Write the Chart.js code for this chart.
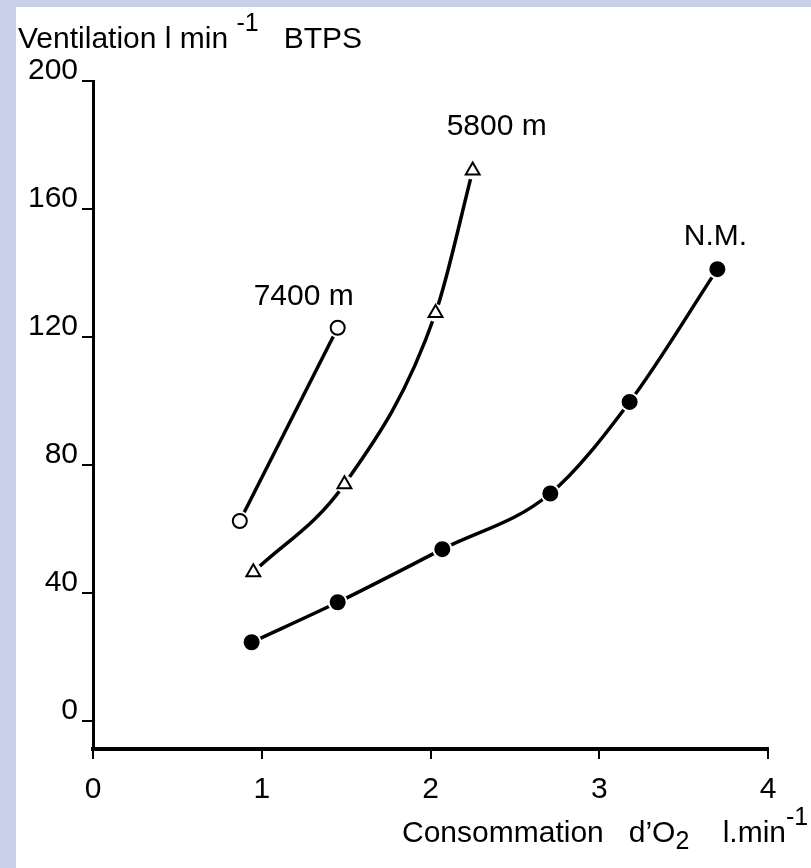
<!DOCTYPE html>
<html lang="fr">
<head>
<meta charset="utf-8">
<title>Ventilation et consommation d'O2</title>
<script src="https://cdn.jsdelivr.net/npm/chart.js@4.4.1/dist/chart.umd.min.js"></script>
<style>
  html, body { margin: 0; padding: 0; }
  body { width: 811px; height: 868px; background: #c9d0e9; overflow: hidden; position: relative; }
  #panel { position: absolute; left: 16px; top: 7px; width: 795px; height: 861px; background: #fff; }
  canvas { display: block; }
</style>
</head>
<body>
<div id="panel"><canvas id="chart" width="795" height="861"></canvas></div>
<script>
// Données (l/min)
const seriesNames = ["7400 m", "5800 m", "N.M."];

const o2_7400 = [0.87, 1.45];
const vent_7400 = [62.5, 122.9];

const o2_5800 = [0.95, 1.49, 2.03, 2.25];
const vent_5800 = [46.5, 74.0, 127.5, 172];

const o2_nm = [0.94, 1.45, 2.07, 2.71, 3.18, 3.70];
const vent_nm = [24.6, 37.1, 53.7, 71.1, 99.7, 141.2];

const xTicks = [0, 1, 2, 3, 4];
const yTicks = [0, 40, 80, 120, 160, 200];

// Titres des axes : [texte, type]
const yTitle = [["Ventilation l min ", "normal"], ["-1", "sup"], ["   BTPS", "normal"]];
const xTitle = [["Consommation   d\u2019O", "normal"], ["2", "sub"], ["    l.min", "normal"], ["-1", "sup"]];

const FONT = '"Liberation Sans", Arial, sans-serif';

// Mise en forme des séries
const points = (xs, ys) => xs.map((x, i) => ({ x: x, y: ys[i] }));

const series = [
  { name: seriesNames[0], data: points(o2_7400, vent_7400), style: "circle", fill: "#fff", size: 7, halo: 10, dx: -34, dy: -31 },
  { name: seriesNames[1], data: points(o2_5800, vent_5800), style: "triangle", fill: "#fff", size: 8, halo: 9, dx: 24, dy: -44 },
  { name: seriesNames[2], data: points(o2_nm, vent_nm), style: "circle", fill: "#000", size: 7, halo: 10, dx: -2, dy: -32 },
];

const datasets = [];
series.forEach((s) => {
  // courbe lissée
  datasets.push({
    data: s.data,
    borderColor: "#000",
    borderWidth: 3.5,
    pointRadius: 0,
    cubicInterpolationMode: "monotone",
    order: 3,
  });
  // petit blanc autour des points
  datasets.push({
    data: s.data,
    showLine: false,
    pointStyle: "circle",
    pointRadius: s.halo,
    pointBackgroundColor: "#fff",
    pointBorderWidth: 0,
    order: 2,
  });
  // marqueurs
  datasets.push({
    data: s.data,
    showLine: false,
    pointStyle: s.style,
    pointRadius: s.size,
    pointBackgroundColor: s.fill,
    pointBorderColor: "#000",
    pointBorderWidth: 2,
    order: 1,
  });
});

// Texte avec indices / exposants
function drawRich(ctx, parts, x, y) {
  ctx.save();
  ctx.fillStyle = "#000";
  ctx.textAlign = "left";
  ctx.textBaseline = "alphabetic";
  parts.forEach(([txt, kind]) => {
    let size = 30, dy = 0;
    if (kind === "sup") { size = 25; dy = -17; }
    if (kind === "sub") { size = 25; dy = 7; }
    ctx.font = size + "px " + FONT;
    ctx.fillText(txt, x, y + dy);
    x += ctx.measureText(txt).width;
  });
  ctx.restore();
}

const labelsPlugin = {
  id: "etiquettes",
  afterDraw(chart) {
    const ctx = chart.ctx;
    const xs = chart.scales.x;
    const ys = chart.scales.y;

    // noms des courbes au bout de chaque série
    ctx.save();
    ctx.fillStyle = "#000";
    ctx.font = "30px " + FONT;
    ctx.textAlign = "center";
    ctx.textBaseline = "middle";
    series.forEach((s) => {
      const last = s.data[s.data.length - 1];
      ctx.fillText(s.name, xs.getPixelForValue(last.x) + s.dx, ys.getPixelForValue(last.y) + s.dy);
    });
    ctx.restore();

    drawRich(ctx, yTitle, 2, 41);
    drawRich(ctx, xTitle, 386, 835);
  },
};

new Chart(document.getElementById("chart"), {
  type: "line",
  data: { datasets: datasets },
  options: {
    responsive: false,
    animation: false,
    layout: { padding: { top: 74, right: 43, left: 0, bottom: 0 } },
    plugins: { legend: { display: false }, tooltip: { enabled: false } },
    scales: {
      x: {
        type: "linear",
        min: 0,
        max: 4,
        afterBuildTicks: (s) => { s.ticks = xTicks.map((v) => ({ value: v })); },
        afterFit: (s) => { s.height = 119; },
        border: { display: true, color: "#000", width: 4 },
        grid: { display: true, drawOnChartArea: false, drawTicks: true, tickLength: 10, color: "#000", lineWidth: 2 },
        ticks: { color: "#000", font: { family: FONT, size: 30 }, padding: 13, maxRotation: 0, autoSkip: false },
      },
      y: {
        type: "linear",
        min: -8.75,
        max: 200,
        afterBuildTicks: (s) => { s.ticks = yTicks.map((v) => ({ value: v })); },
        afterFit: (s) => { s.width = 77; },
        border: { display: true, color: "#000", width: 3 },
        grid: { display: true, drawOnChartArea: false, drawTicks: true, tickLength: 11, color: "#000", lineWidth: 2 },
        ticks: { color: "#000", font: { family: FONT, size: 30 }, padding: 4, labelOffset: -10, autoSkip: false },
      },
    },
  },
  plugins: [labelsPlugin],
});
</script>
</body>
</html>
